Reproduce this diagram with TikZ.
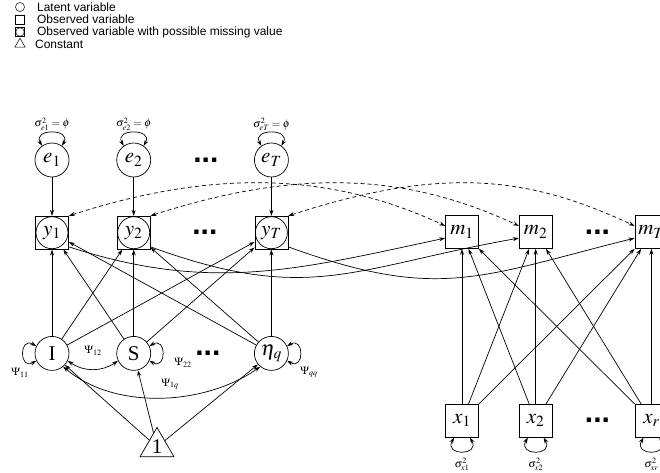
\documentclass[tikz,border=0pt]{standalone}
\usepackage{mathptmx}
\usepackage{fontspec}
\setmainfont{Liberation Serif}
\newfontfamily\legendfont{Liberation Sans}
\usetikzlibrary{positioning,arrows.meta,shapes.geometric}

\begin{document}
\begin{tikzpicture}
[
x=1pt, y=1pt, line width=0.7pt,
var-lat/.style={circle, draw, minimum size=34pt, inner sep=0pt, font=\fontsize{21}{23}\selectfont},
var-obs/.style={rectangle, draw, minimum size=33pt, inner sep=0pt, font=\fontsize{21}{23}\selectfont},
var-mis/.style={var-obs, path picture={\draw (path picture bounding box.center) circle (16pt);}},
var-con/.style={regular polygon, regular polygon sides=3, draw, minimum size=38pt, inner sep=0pt, font=\fontsize{21}{23}\selectfont},
dots-a/.style={inner sep=0pt, font=\fontsize{30}{30}\legendfont\bfseries},
text-a/.style={inner sep=1pt, font=\fontsize{11}{13}\selectfont},
text-b/.style={inner sep=0pt, font=\fontsize{12}{14}\legendfont},
sym-a/.style={draw, minimum size=9pt, inner sep=0pt, line width=0.5pt},
arr-a/.style={-{Stealth[length=6pt, width=4pt]}},
arr-b/.style={{Stealth[length=6pt, width=4pt]}-{Stealth[length=6pt, width=4pt]}},
arr-c/.style={arr-b, dash pattern=on 4pt off 3pt}
]
\useasboundingbox (0,0) rectangle (660,472);

% legend
\node (leg-1)   [sym-a, circle]                     at (20,465) {};
\node (leg-1-t) [text-b, right = 12pt of leg-1]    {Latent variable};
\node (leg-2)   [sym-a, rectangle, below = 3pt of leg-1] {};
\node (leg-2-t) [text-b, right = 12pt of leg-2]    {Observed variable};
\node (leg-3)   [sym-a, rectangle, below = 3pt of leg-2,
                 path picture={\draw (path picture bounding box.center) circle (4.3pt);}] {};
\node (leg-3-t) [text-b, right = 12pt of leg-3]    {Observed variable with possible missing value};
\node (leg-4)   [sym-a, regular polygon, regular polygon sides=3, minimum size=12pt, below = 1pt of leg-3] {};
\node (leg-4-t) [text-b, right = 11pt of leg-4]    {Constant};

% residuals
\node (e-1)    [var-lat]                      at (52,312) {$e_1$};
\node (e-2)    [var-lat, right =  47pt of e-1]            {$e_2$};
\node (dots-1) [dots-a,  right =  42pt of e-2]            {...};
\node (e-T)    [var-lat, right = 103pt of e-2]            {$e_T$};
\node (se-1)   [text-a,  above =  11pt of e-1]            {$\sigma^2_{e1}=\phi$};
\node (se-2)   [text-a,  above =  11pt of e-2]            {$\sigma^2_{e2}=\phi$};
\node (se-T)   [text-a,  above =  11pt of e-T]            {$\sigma^2_{eT}=\phi$};

% outcomes
\node (y-1)    [var-mis, below =  38.5pt of e-1]          {$y_1$};
\node (y-2)    [var-mis, below =  38.5pt of e-2]          {$y_2$};
\node (dots-2) [dots-a,  right =  41.5pt of y-2]          {...};
\node (y-T)    [var-mis, below =  38.5pt of e-T]          {$y_T$};

% growth factors
\node (f-I)    [var-lat, below =  86.5pt of y-1]          {I};
\node (f-S)    [var-lat, below =  86.5pt of y-2]          {S};
\node (dots-3) [dots-a,  right =  44pt of f-S]            {...};
\node (f-q)    [var-lat, below =  86.5pt of y-T]          {$\eta_q$};
\node (one)    [var-con]                      at (157,25) {1};

% missingness
\node (m-1)    [var-obs]                      at (462,240) {$m_1$};
\node (m-2)    [var-obs, right =  40pt of m-1]            {$m_2$};
\node (dots-4) [dots-a,  right =  32pt of m-2]            {...};
\node (m-T)    [var-obs, right =  82pt of m-2]            {$m_T$};

% covariates
\node (x-1)    [var-obs, below = 155pt of m-1]            {$x_1$};
\node (x-2)    [var-obs, below = 155pt of m-2]            {$x_2$};
\node (dots-5) [dots-a,  right =  32pt of x-2]            {...};
\node (x-r)    [var-obs, below = 155pt of m-T]            {$x_r$};
\node (sx-1)   [text-a,  below =  19pt of x-1]            {$\sigma^2_{x1}$};
\node (sx-2)   [text-a,  below =  19pt of x-2]            {$\sigma^2_{x2}$};
\node (sx-r)   [text-a,  below =  19pt of x-r]            {$\sigma^2_{xr}$};

% variance labels
\node (p-11)   [text-a]                       at (20,99)  {$\Psi_{11}$};
\node (p-12)   [text-a]                       at (93,121) {$\Psi_{12}$};
\node (p-22)   [text-a]                       at (183,109) {$\Psi_{22}$};
\node (p-1q)   [text-a]                       at (170,88) {$\Psi_{1q}$};
\node (p-qq)   [text-a]                       at (309,100) {$\Psi_{qq}$};

% self loops
\draw [arr-b] (e-1.125) to[out=120, in=60, looseness=2.6] (e-1.55);
\draw [arr-b] (e-2.125) to[out=120, in=60, looseness=2.6] (e-2.55);
\draw [arr-b] (e-T.125) to[out=120, in=60, looseness=2.6] (e-T.55);
\draw [arr-b] (f-I.155) to[out=150, in=210, looseness=3.5] (f-I.205);
\draw [arr-b] (f-S.25)  to[out=30, in=-30, looseness=3.5] (f-S.-25);
\draw [arr-b] (f-q.25)  to[out=30, in=-30, looseness=3.5] (f-q.-25);
\draw [arr-b] (x-1.-115) to[out=-120, in=-60, looseness=3.5] (x-1.-65);
\draw [arr-b] (x-2.-115) to[out=-120, in=-60, looseness=3.5] (x-2.-65);
\draw [arr-b] (x-r.-115) to[out=-120, in=-60, looseness=3.5] (x-r.-65);

% covariances
\draw [arr-b] (f-I.-25) to[out=-35, in=215] (f-S.205);
\draw [arr-b] (f-I.-50) to[out=-40, in=215, distance=68pt] (f-q.230);

% loadings
\draw [arr-a] (e-1) -- (y-1);
\draw [arr-a] (e-2) -- (y-2);
\draw [arr-a] (e-T) -- (y-T);
\draw [arr-a] (f-I) -- (y-1);
\draw [arr-a] (f-I) -- (y-2);
\draw [arr-a] (f-I) -- (y-T);
\draw [arr-a] (f-S) -- (y-1);
\draw [arr-a] (f-S) -- (y-2);
\draw [arr-a] (f-S) -- (y-T);
\draw [arr-a] (f-q) -- (y-1);
\draw [arr-a] (f-q) -- (y-2);
\draw [arr-a] (f-q) -- (y-T);
\draw [arr-a] (one) -- (f-I);
\draw [arr-a] (one) -- (f-S);
\draw [arr-a] (one) -- (f-q);

% outcome to missingness
\draw [arr-a] (y-1.-40) to[out=-18, in=192, distance=150pt] (m-1.200);
\draw [arr-a] (y-2.-40) to[out=-20, in=190, distance=170pt] (m-2.200);
\draw [arr-a] (y-T.-40) to[out=-20, in=194, distance=160pt] (m-T.200);
\draw [arr-c] (y-1.45) to[out=18, in=155, out distance=165pt, in distance=115pt] (m-1.160);
\draw [arr-c] (y-2.45) to[out=18, in=155, out distance=165pt, in distance=115pt] (m-2.160);
\draw [arr-c] (y-T.45) to[out=18, in=155, out distance=165pt, in distance=115pt] (m-T.160);

% covariates to missingness
\draw [arr-a] (x-1) -- (m-1);
\draw [arr-a] (x-1) -- (m-2);
\draw [arr-a] (x-1) -- (m-T);
\draw [arr-a] (x-2) -- (m-1);
\draw [arr-a] (x-2) -- (m-2);
\draw [arr-a] (x-2) -- (m-T);
\draw [arr-a] (x-r) -- (m-1);
\draw [arr-a] (x-r) -- (m-2);
\draw [arr-a] (x-r) -- (m-T);
\end{tikzpicture}
\end{document}
